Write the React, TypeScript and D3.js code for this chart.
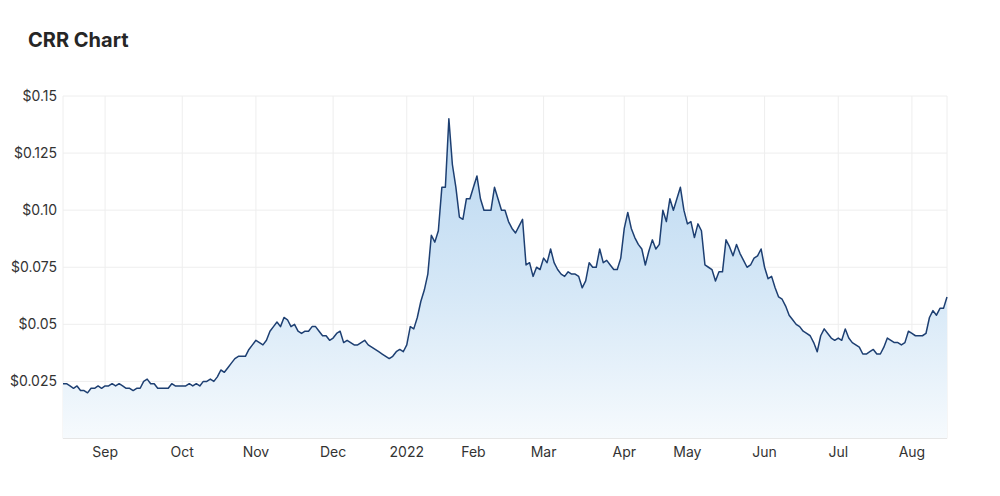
import React from "react";
import * as d3 from "d3";

const startDate = "2021-08-16";
const endDate = "2022-08-15";
const holidays = ["2021-12-27", "2021-12-28", "2022-01-03", "2022-01-26", "2022-04-15", "2022-04-18", "2022-04-25", "2022-06-13"];

const prices = [
  0.024, 0.024, 0.023, 0.022, 0.023, 0.021, 0.021, 0.020, 0.022, 0.022,
  0.023, 0.022, 0.023, 0.023, 0.024, 0.023, 0.024, 0.023, 0.022, 0.022,
  0.021, 0.022, 0.022, 0.025, 0.026, 0.024, 0.024, 0.022, 0.022, 0.022,
  0.022, 0.024, 0.023, 0.023, 0.023, 0.023, 0.024, 0.023, 0.024, 0.023,
  0.025, 0.025, 0.026, 0.025, 0.027, 0.030, 0.029, 0.031, 0.033, 0.035,
  0.036, 0.036, 0.036, 0.039, 0.041, 0.043, 0.042, 0.041, 0.043, 0.047,
  0.049, 0.051, 0.049, 0.053, 0.052, 0.049, 0.050, 0.047, 0.046, 0.047,
  0.047, 0.049, 0.049, 0.047, 0.045, 0.045, 0.043, 0.044, 0.046, 0.047,
  0.042, 0.043, 0.042, 0.041, 0.041, 0.042, 0.043, 0.041, 0.040, 0.039,
  0.038, 0.037, 0.036, 0.035, 0.036, 0.038, 0.039, 0.038, 0.041, 0.049,
  0.048, 0.053, 0.060, 0.065, 0.072, 0.089, 0.086, 0.091, 0.110, 0.110,
  0.140, 0.120, 0.110, 0.097, 0.096, 0.105, 0.105, 0.110, 0.115, 0.105,
  0.100, 0.100, 0.100, 0.110, 0.105, 0.100, 0.100, 0.095, 0.092, 0.090,
  0.093, 0.096, 0.076, 0.077, 0.071, 0.075, 0.074, 0.079, 0.077, 0.083,
  0.077, 0.074, 0.072, 0.071, 0.073, 0.072, 0.072, 0.071, 0.066, 0.069,
  0.077, 0.075, 0.075, 0.083, 0.077, 0.078, 0.076, 0.074, 0.074, 0.079,
  0.092, 0.099, 0.092, 0.088, 0.085, 0.083, 0.076, 0.082, 0.087, 0.083,
  0.085, 0.100, 0.095, 0.105, 0.100, 0.105, 0.110, 0.100, 0.094, 0.095,
  0.088, 0.094, 0.091, 0.076, 0.075, 0.074, 0.069, 0.073, 0.073, 0.087,
  0.084, 0.080, 0.085, 0.081, 0.078, 0.075, 0.076, 0.079, 0.080, 0.083,
  0.075, 0.070, 0.071, 0.066, 0.062, 0.061, 0.058, 0.054, 0.052, 0.050,
  0.049, 0.047, 0.046, 0.045, 0.042, 0.038, 0.045, 0.048, 0.046, 0.044,
  0.043, 0.044, 0.043, 0.048, 0.044, 0.042, 0.041, 0.040, 0.037, 0.037,
  0.038, 0.039, 0.037, 0.037, 0.040, 0.044, 0.043, 0.042, 0.042, 0.041,
  0.042, 0.047, 0.046, 0.045, 0.045, 0.045, 0.046, 0.053, 0.056, 0.054,
  0.057, 0.057, 0.062,
];

const yTicks = [0.025, 0.05, 0.075, 0.1, 0.125, 0.15];
const yTickLabels = ["$0.025", "$0.05", "$0.075", "$0.10", "$0.125", "$0.15"];
const monthLabels = ["Sep", "Oct", "Nov", "Dec", "2022", "Feb", "Mar", "Apr", "May", "Jun", "Jul", "Aug"];

const fmt = d3.timeFormat("%Y-%m-%d");
const parse = d3.timeParse("%Y-%m-%d");

const tradingDays: Date[] = d3
  .timeDay.range(parse(startDate)!, d3.timeDay.offset(parse(endDate)!, 1))
  .filter((d) => d.getDay() !== 0 && d.getDay() !== 6 && !holidays.includes(fmt(d)));

const data = prices.map((v, i) => ({ i, date: tradingDays[i], v }));

// month start indices (first trading day of each month after the first)
const monthStarts: number[] = [];
for (let i = 1; i < tradingDays.length; i++) {
  if (tradingDays[i].getMonth() !== tradingDays[i - 1].getMonth()) monthStarts.push(i);
}

const W = 1000;
const H = 496;
const left = 63;
const right = 947;
const top = 96;
const bottom = 438.5;

export default function App() {
  const x = d3.scaleLinear().domain([0, prices.length - 1]).range([left, right]);
  const y = d3.scaleLinear().domain([0, 0.15]).range([bottom, top]);

  const line = d3.line<any>().x((d) => x(d.i)).y((d) => y(d.v));
  const area = d3.area<any>().x((d) => x(d.i)).y0(bottom).y1((d) => y(d.v));

  const font = "Inter, 'Noto Sans', sans-serif";

  return (
    <svg width={W} height={H} style={{ position: "absolute", left: 0, top: 0, background: "#fff" }}>
      <defs>
        <linearGradient id="areaGrad" x1="0" y1="0" x2="0" y2="1">
          <stop offset="0%" stopColor="#b8d6f0" />
          <stop offset="55%" stopColor="#d6e8f7" />
          <stop offset="100%" stopColor="#f6fafd" />
        </linearGradient>
      </defs>
      <text x={28} y={47} fontFamily={font} fontSize={20} fontWeight={700} fill="#262626">
        CRR Chart
      </text>

      {/* horizontal gridlines */}
      {yTicks.map((t) => (
        <line key={"h" + t} x1={left} x2={right} y1={y(t)} y2={y(t)} stroke="#eeeeee" strokeWidth={1} />
      ))}
      {/* vertical gridlines */}
      {monthStarts.map((m) => (
        <line key={"v" + m} x1={x(m)} x2={x(m)} y1={top} y2={bottom} stroke="#eeeeee" strokeWidth={1} />
      ))}
      <line x1={left} x2={left} y1={top} y2={bottom} stroke="#eeeeee" />
      <line x1={right} x2={right} y1={top} y2={bottom} stroke="#eeeeee" />

      <path d={area(data) || ""} fill="url(#areaGrad)" />
      <line x1={left} x2={right} y1={bottom} y2={bottom} stroke="#e6e6e6" />
      <path d={line(data) || ""} fill="none" stroke="#1d3f72" strokeWidth={1.5} strokeLinejoin="round" />

      {yTicks.map((t, k) => (
        <text key={"yl" + t} x={57} y={y(t)} dy="0.35em" textAnchor="end" fontFamily={font} fontSize={14} fill="#333">
          {yTickLabels[k]}
        </text>
      ))}
      {monthStarts.map((m, k) => (
        <text key={"xl" + m} x={x(m)} y={457} textAnchor="middle" fontFamily={font} fontSize={14} fill="#333">
          {monthLabels[k]}
        </text>
      ))}
    </svg>
  );
}
